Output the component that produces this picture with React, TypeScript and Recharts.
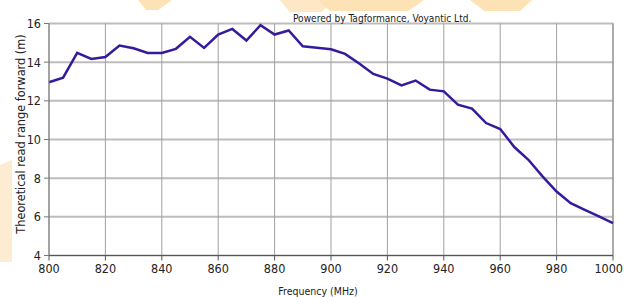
import { LineChart, Line, XAxis, YAxis, CartesianGrid } from 'recharts'

// Frequency sweep, 5 MHz steps
const freqs = [
  800, 805, 810, 815, 820, 825, 830, 835, 840, 845, 850, 855, 860, 865, 870, 875, 880, 885, 890, 895, 900,
  905, 910, 915, 920, 925, 930, 935, 940, 945, 950, 955, 960, 965, 970, 975, 980, 985, 990, 995, 1000,
]
const range = [
  12.96, 13.2, 14.48, 14.17, 14.27, 14.86, 14.72, 14.48, 14.48, 14.69, 15.31, 14.74, 15.43, 15.72, 15.12, 15.91,
  15.43, 15.64, 14.82, 14.74, 14.67, 14.43, 13.93, 13.39, 13.15, 12.8, 13.05, 12.58, 12.49, 11.8, 11.6, 10.85,
  10.54, 9.61, 8.95, 8.09, 7.31, 6.71, 6.36, 6.02, 5.67,
]
const xTicks = [800, 820, 840, 860, 880, 900, 920, 940, 960, 980, 1000]
const yTicks = [4, 6, 8, 10, 12, 14, 16]

const data = freqs.map((f, i) => ({ f, r: range[i] }))

const font = '"DejaVu Sans Condensed", "DejaVu Sans", sans-serif'

// last label would run off the page, so pin it to the right edge
function FreqTick(props: any) {
  const { x, y, payload } = props
  const last = payload.value === 1000
  return (
    <text
      x={last ? 623 : x}
      y={y}
      dy="0.71em"
      textAnchor={last ? 'end' : 'middle'}
      fill="#222"
      fontSize={12.5}
      fontFamily={font}
    >
      {payload.value}
    </text>
  )
}

export default function App() {
  return (
    <div style={{ position: 'absolute', left: 0, top: 0, width: 624, height: 297, background: '#fff', fontFamily: font }}>
      <LineChart width={624} height={297} data={data} margin={{ top: 23.5, right: 11, bottom: 11.5, left: 19 }}>
        {/* watermark shapes */}
        <polygon points="0,165 12,160 12,262 0,262" fill="#fdebd2" />
        <polygon points="138,0 172,0 158,10 146,10" fill="#fde2b6" />
        <polygon points="280,0 332,0 322,12 290,12" fill="#fde7c4" />
        <polygon points="318,0 424,0 408,11 330,11" fill="#fde2b6" />
        <polygon points="470,0 532,0 520,11 484,11" fill="#fde2b6" />
        <CartesianGrid vertical={false} stroke="#bdbdbd" strokeWidth={2} />
        <CartesianGrid horizontal={false} stroke="#a0a0a0" strokeWidth={1} />
        <XAxis
          dataKey="f"
          type="number"
          domain={[800, 1000]}
          ticks={xTicks}
          height={30}
          tickSize={5}
          tickMargin={4}
          stroke="#555"
          tick={<FreqTick />}
        />
        <YAxis
          domain={[4, 16]}
          ticks={yTicks}
          width={30}
          tickSize={5}
          tickMargin={3}
          stroke="#777"
          tick={{ fill: '#222', fontSize: 12.5, fontFamily: font }}
        />
        <Line
          dataKey="r"
          type="linear"
          stroke="#361a9c"
          strokeWidth={2.5}
          dot={false}
          isAnimationActive={false}
        />
        <line x1={613} y1={23.5} x2={613} y2={255.5} stroke="#888" />
        <text x={293} y={21.5} fontSize={10.1} fill="#222" fontFamily={font}>Powered by Tagformance, Voyantic Ltd.</text>
        <text x={318} y={295} fontSize={10.5} fill="#222" textAnchor="middle" fontFamily={font}>Frequency (MHz)</text>
        <text x={24.5} y={134} fontSize={12.6} fill="#222" textAnchor="middle" fontFamily={font} transform="rotate(-90, 24.5, 134)">
          Theoretical read range forward (m)
        </text>
      </LineChart>
    </div>
  )
}
